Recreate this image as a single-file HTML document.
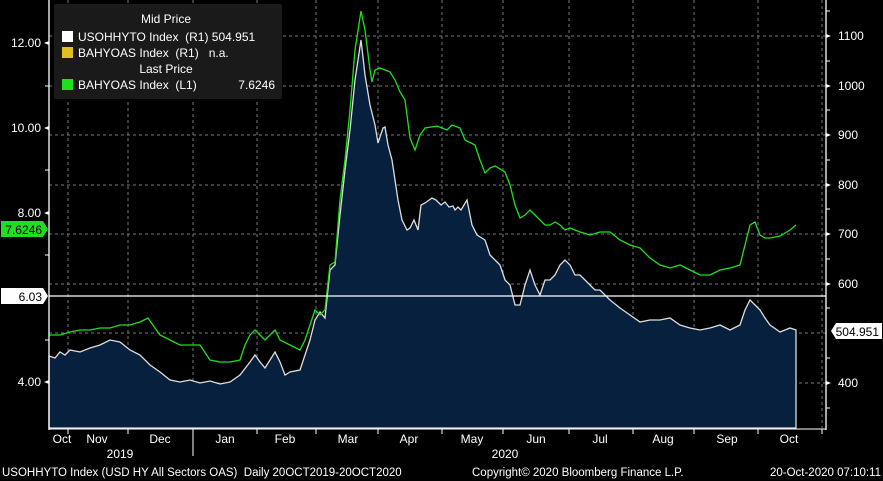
<!DOCTYPE html>
<html><head><meta charset="utf-8"><style>
html,body{margin:0;padding:0;background:#000;}
svg{display:block;font-family:"Liberation Sans",sans-serif;}
text{white-space:pre;}
</style></head><body>
<svg width="883" height="481" viewBox="0 0 883 481" xmlns="http://www.w3.org/2000/svg">
<rect width="883" height="481" fill="#000"/>
<g stroke="#777" stroke-width="1" stroke-dasharray="3,3">
<line x1="49" x2="826" y1="36" y2="36"/><line x1="49" x2="826" y1="86" y2="86"/>
<line x1="49" x2="826" y1="135" y2="135"/><line x1="49" x2="826" y1="185" y2="185"/>
<line x1="49" x2="826" y1="234" y2="234"/><line x1="49" x2="826" y1="284" y2="284"/>
<line x1="49" x2="826" y1="333" y2="333"/><line x1="49" x2="826" y1="383" y2="383"/>
<line x1="68" x2="68" y1="0" y2="428"/><line x1="128" x2="128" y1="0" y2="428"/>
<line x1="193" x2="193" y1="0" y2="428"/><line x1="257" x2="257" y1="0" y2="428"/>
<line x1="316" x2="316" y1="0" y2="428"/><line x1="378" x2="378" y1="0" y2="428"/>
<line x1="442" x2="442" y1="0" y2="428"/><line x1="503" x2="503" y1="0" y2="428"/>
<line x1="569" x2="569" y1="0" y2="428"/><line x1="633" x2="633" y1="0" y2="428"/>
<line x1="694" x2="694" y1="0" y2="428"/><line x1="758" x2="758" y1="0" y2="428"/>
<line x1="822" x2="822" y1="0" y2="428"/>
</g>
<path fill="#06203d" stroke="#ddd" stroke-width="1.3" d="M49,428 L49,356 L55,358 L60,352 L65,355 L70,350 L80,352 L90,348 L100,345 L110,340 L120,342 L130,350 L140,355 L150,365 L160,372 L170,380 L180,382 L190,380 L200,383 L210,381 L220,384 L230,382 L240,375 L250,362 L255,355 L260,362 L265,368 L270,360 L275,352 L280,362 L285,375 L290,372 L300,370 L305,355 L310,340 L315,320 L320,312 L325,318 L330,270 L335,265 L340,215 L345,170 L350,130 L355,80 L361,40 L365,75 L370,105 L375,125 L378,143 L383,128 L385,127 L388,145 L392,160 L395,180 L398,200 L402,220 L407,230 L410,228 L414,220 L418,230 L421,205 L425,203 L432,198 L436,200 L441,205 L445,202 L449,207 L453,206 L455,210 L458,207 L461,210 L467,200 L472,225 L477,235 L485,240 L490,255 L495,260 L500,265 L505,280 L510,285 L515,305 L520,305 L525,285 L530,270 L535,285 L540,295 L545,280 L550,280 L555,275 L560,265 L565,260 L570,265 L575,275 L580,275 L585,280 L590,285 L595,290 L600,290 L610,300 L620,308 L630,315 L640,322 L650,320 L660,320 L670,318 L680,325 L690,328 L700,330 L710,328 L720,325 L730,330 L740,325 L745,310 L750,300 L755,305 L760,310 L765,318 L770,325 L780,332 L790,328 L796,330 L796,428 Z"/>
<polyline fill="none" stroke="#1ee01e" stroke-width="1.3" points="49,335 60,335 70,332 80,330 90,330 100,328 110,328 120,325 130,325 140,322 148,318 155,328 160,335 170,340 180,345 190,345 200,345 210,360 220,362 230,362 240,360 245,345 250,335 255,330 260,335 265,340 270,335 275,330 280,340 290,345 300,350 305,340 310,325 315,310 320,315 325,310 330,265 335,262 340,200 345,160 350,110 355,50 361,11 365,30 370,70 372,82 375,70 380,68 385,70 390,72 395,80 400,92 405,100 410,138 415,150 420,135 425,128 437,126 447,130 452,125 460,128 465,140 475,145 480,160 485,173 490,168 495,166 505,172 510,185 515,205 520,218 525,215 530,210 535,215 540,220 545,225 550,225 555,222 560,225 565,230 570,228 580,232 590,235 600,232 610,232 620,240 630,245 640,248 650,258 660,265 670,268 680,265 690,270 700,275 710,275 720,270 730,268 740,265 745,245 750,225 755,222 760,235 765,238 770,238 780,236 790,230 796,225"/>
<line x1="49" x2="826" y1="296" y2="296" stroke="#fff" stroke-width="1.3"/>
<line x1="49" x2="49" y1="0" y2="430" stroke="#fff" stroke-width="1.3"/>
<line x1="826" x2="826" y1="0" y2="430" stroke="#fff" stroke-width="1.3"/>
<line x1="49" x2="826" y1="429" y2="429" stroke="#fff" stroke-width="1"/>
<g stroke="#fff" stroke-width="1">
<line x1="45" x2="49" y1="86" y2="86"/><line x1="45" x2="49" y1="170" y2="170"/>
<line x1="45" x2="49" y1="255" y2="255"/><line x1="45" x2="49" y1="340" y2="340"/>
<line x1="826" x2="830" y1="11" y2="11"/><line x1="826" x2="830" y1="61" y2="61"/>
<line x1="826" x2="830" y1="110" y2="110"/><line x1="826" x2="830" y1="160" y2="160"/>
<line x1="826" x2="830" y1="209" y2="209"/><line x1="826" x2="830" y1="259" y2="259"/>
<line x1="826" x2="830" y1="308" y2="308"/><line x1="826" x2="830" y1="358" y2="358"/>
<line x1="826" x2="830" y1="408" y2="408"/>
<line x1="68" x2="68" y1="429" y2="434"/><line x1="128" x2="128" y1="429" y2="434"/>
<line x1="193" x2="193" y1="429" y2="456"/><line x1="257" x2="257" y1="429" y2="434"/>
<line x1="316" x2="316" y1="429" y2="434"/><line x1="378" x2="378" y1="429" y2="434"/>
<line x1="442" x2="442" y1="429" y2="434"/><line x1="503" x2="503" y1="429" y2="434"/>
<line x1="569" x2="569" y1="429" y2="434"/><line x1="633" x2="633" y1="429" y2="434"/>
<line x1="694" x2="694" y1="429" y2="434"/><line x1="758" x2="758" y1="429" y2="434"/>
<line x1="822" x2="822" y1="429" y2="434"/>
</g>
<g fill="#fff" font-size="12">
<text x="41" y="47" text-anchor="end">12.00</text>
<text x="41" y="132" text-anchor="end">10.00</text>
<text x="41" y="217" text-anchor="end">8.00</text>
<text x="41" y="386" text-anchor="end">4.00</text>
<polygon points="44,43 49,41 49,45"/><polygon points="44,128 49,126 49,130"/><polygon points="44,213 49,211 49,215"/><polygon points="44,382 49,380 49,384"/>
<text x="838" y="40">1100</text><text x="838" y="90">1000</text><text x="838" y="139">900</text>
<text x="838" y="189">800</text><text x="838" y="238">700</text><text x="838" y="288">600</text>
<text x="838" y="387">400</text>
<polygon points="831,36 826,34 826,38"/><polygon points="831,86 826,84 826,88"/><polygon points="831,135 826,133 826,137"/><polygon points="831,185 826,183 826,187"/><polygon points="831,234 826,232 826,236"/><polygon points="831,284 826,282 826,286"/><polygon points="831,383 826,381 826,385"/>
</g>
<polygon points="1,221 43,221 48,229 43,237 1,237" fill="#1ee01e"/>
<text x="42" y="234" text-anchor="end" font-size="12" fill="#000">7.6246</text>
<polygon points="1,288 43,288 48,296 43,304 1,304" fill="#fff"/>
<text x="42" y="301" text-anchor="end" font-size="12" fill="#000">6.03</text>
<polygon points="831,331 836,323 882,323 882,339 836,339" fill="#fff"/>
<text x="879" y="336" text-anchor="end" font-size="12" fill="#000">504.951</text>
<rect x="54" y="4" width="228" height="95" rx="2" fill="#1a1a1a"/>
<g font-size="12" fill="#fff">
<text x="166" y="23" text-anchor="middle">Mid Price</text>
<rect x="62" y="31" width="11" height="11" fill="#fff"/>
<text x="78" y="41">USOHHYTO Index  (R1) 504.951</text>
<rect x="62" y="47" width="11" height="11" fill="#e0c020"/>
<text x="78" y="57">BAHYOAS Index  (R1)   n.a.</text>
<text x="166" y="73" text-anchor="middle">Last Price</text>
<rect x="62" y="79" width="11" height="11" fill="#1ee01e"/>
<text x="78" y="89">BAHYOAS Index  (L1)</text>
<text x="275" y="89" text-anchor="end">7.6246</text>
</g>
<g font-size="12" fill="#fff" text-anchor="middle">
<text x="62" y="443">Oct</text><text x="97" y="443">Nov</text><text x="160" y="443">Dec</text>
<text x="225" y="443">Jan</text><text x="285" y="443">Feb</text><text x="348" y="443">Mar</text>
<text x="409" y="443">Apr</text><text x="472" y="443">May</text><text x="536" y="443">Jun</text>
<text x="600" y="443">Jul</text><text x="663" y="443">Aug</text><text x="727" y="443">Sep</text>
<text x="789" y="443">Oct</text>
<text x="120" y="458">2019</text><text x="505" y="458">2020</text>
</g>
<g font-size="11.5" fill="#fff">
<text x="2" y="476">USOHHYTO Index (USD HY All Sectors OAS)  Daily 20OCT2019-20OCT2020</text>
<text x="472" y="476">Copyright© 2020 Bloomberg Finance L.P.</text>
<text x="881" y="476" text-anchor="end">20-Oct-2020 07:10:11</text>
</g>
</svg>
</body></html>
